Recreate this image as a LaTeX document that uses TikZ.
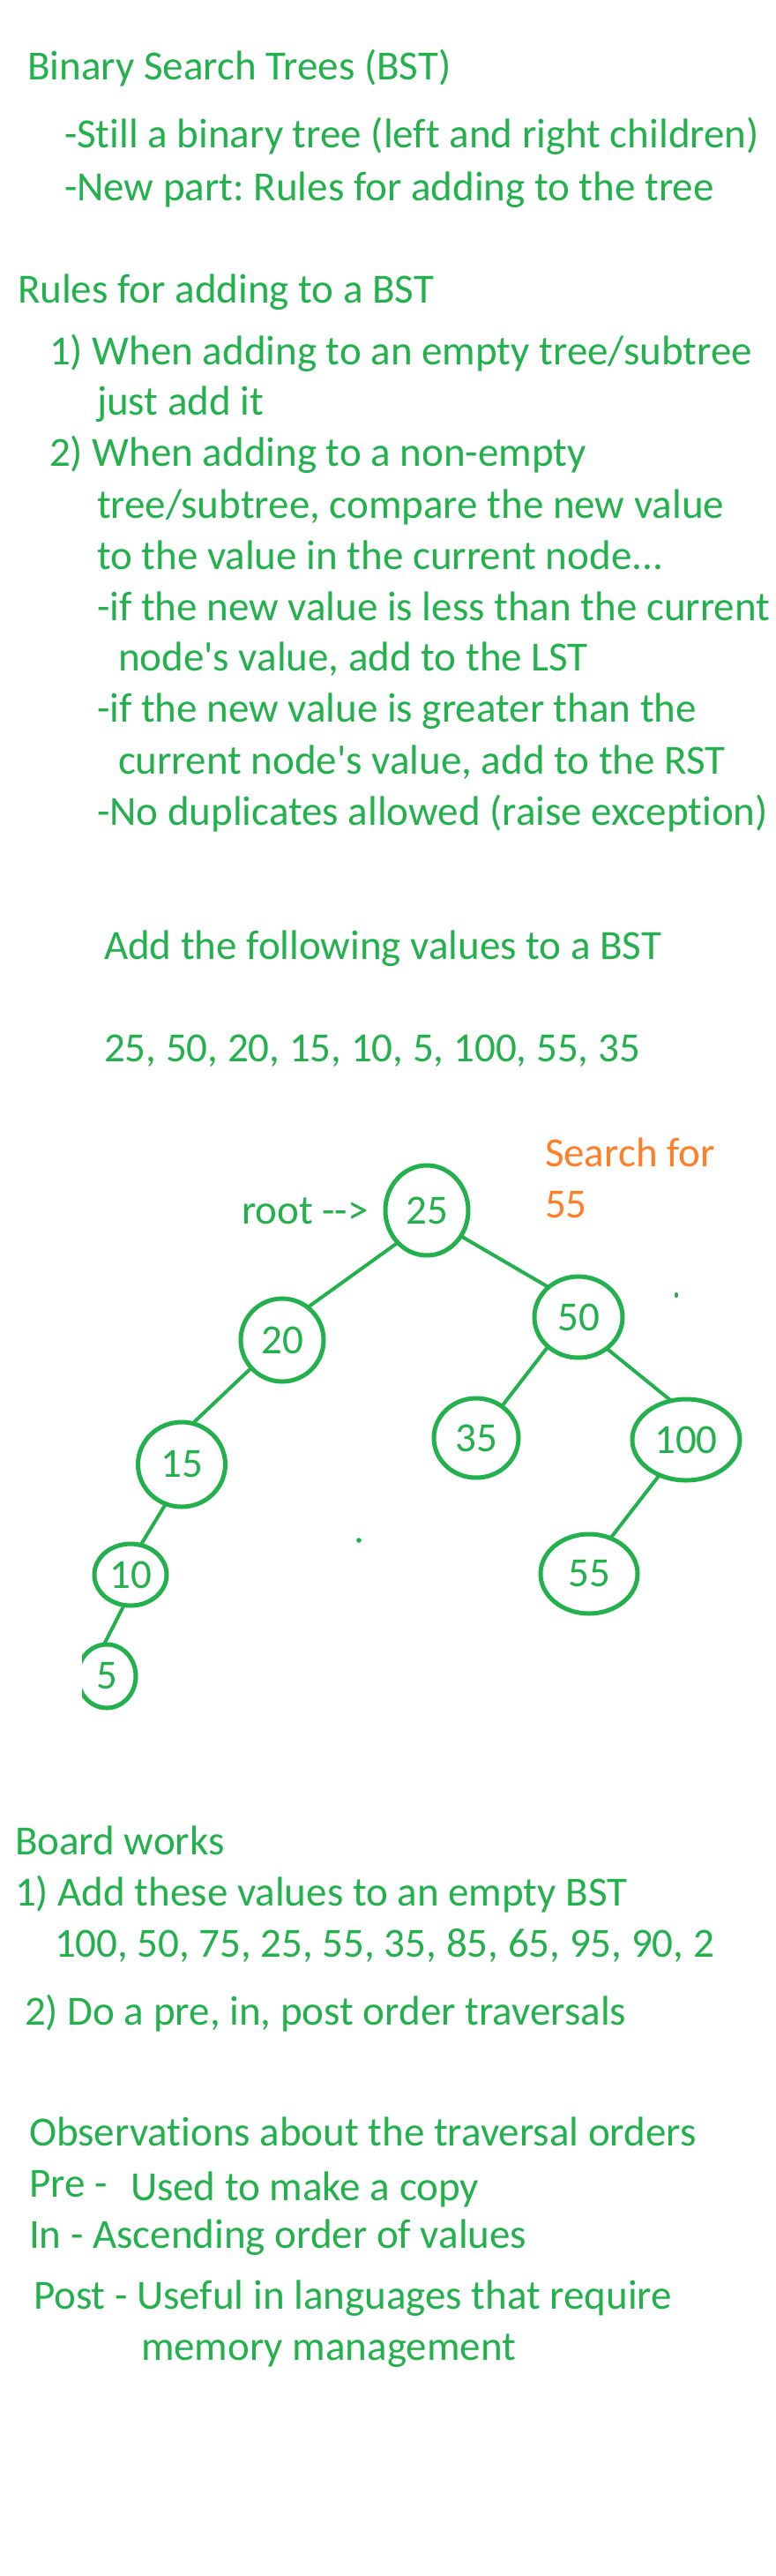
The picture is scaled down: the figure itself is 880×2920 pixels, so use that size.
\documentclass[tikz,border=0pt]{standalone}
\usepackage{fontspec}
\setmainfont{Carlito}[Ligatures={NoCommon,TeX}]
\usetikzlibrary{shapes.geometric}
\definecolor{pgreen}{HTML}{22B14C}
\definecolor{porange}{HTML}{FF7F27}
\frenchspacing
\begin{document}
\begin{tikzpicture}[x=1pt,y=-1pt,
  every node/.style={font=\fontsize{47}{56}\selectfont\frenchspacing, text=pgreen},
  txt/.style={anchor=base west, inner sep=0pt, outer sep=0pt},
  otxt/.style={txt, text=porange},
  bst/.style={ellipse, draw=pgreen, line width=5pt, inner sep=0pt, outer sep=0pt},
  link/.style={draw=pgreen, line width=4pt}]
\fill[white] (0,0) rectangle (880,2920);
\useasboundingbox (0,0) rectangle (880,2920);
% header text
\node[txt] (t1) at (31,90) {Binary Search Trees (BST)};
\node[txt] (t2) at (73,167) {-Still a binary tree (left and right children)};
\node[txt] (t3) at (73,227) {-New part: Rules for adding to the tree};
\node[txt] (t4) at (20,343) {Rules for adding to a BST};
\node[txt] (t5) at (56,413) {1) When adding to an empty tree/subtree};
\node[txt] (t6) at (110,470) {just add it};
\node[txt] (t7) at (56,528) {2) When adding to a non-empty};
\node[txt] (t8) at (110,587) {tree/subtree, compare the new value};
\node[txt] (t9) at (110,645) {to the value in the current node.{}.{}.};
\node[txt] (t10) at (110,703) {-if the new value is less than the current};
\node[txt] (t11) at (134,760) {node\textquotesingle s value, add to the LST};
\node[txt] (t12) at (110,818) {-if the new value is greater than the};
\node[txt] (t13) at (134,877) {current node\textquotesingle s value, add to the RST};
\node[txt] (t14) at (110,935) {-No duplicates allowed (raise exception)};
\node[txt] (t15) at (118,1087) {Add the following values to a BST};
\node[txt] (t16) at (118,1203) {25, 50, 20, 15, 10, 5, 100, 55, 35};
\node[otxt] (s1) at (618,1322) {Search for};
\node[otxt] (s2) at (618,1380) {55};
\node[txt] (root) at (274,1387) {root -{}->};
% tree
\node[bst, minimum width=94pt, minimum height=102pt] (n25) at (484,1372) {25};
\node[bst, minimum width=94pt, minimum height=94pt] (n20) at (320,1519) {20};
\node[bst, minimum width=100pt, minimum height=92pt] (n50) at (656,1493) {50};
\node[bst, minimum width=99pt, minimum height=96pt] (n15) at (206,1660) {15};
\node[bst, minimum width=82pt, minimum height=70pt] (n10) at (148,1785) {10};
\begin{scope}
\clip (93,1800) rectangle (220,1980);
\node[bst, minimum width=66pt, minimum height=72pt] (n5) at (121,1900) {5};
\end{scope}
\node[bst, minimum width=96pt, minimum height=90pt] (n35) at (540,1630) {35};
\node[bst, minimum width=122pt, minimum height=92pt] (n100) at (778,1632) {100};
\node[bst, minimum width=110pt, minimum height=90pt] (n55) at (668,1784) {55};
\draw[link] (n25.228) -- (n20.52);
\draw[link] (n25.323) -- (n50.135);
\draw[link] (n20.222) -- (n15.75);
\draw[link] (n15.248) -- (n10.71);
\draw[link] (n10.258) -- (n5.95);
\draw[link] (n50.224) -- (n35.51);
\draw[link] (n50.312) -- (n100.111);
\draw[link] (n100.233) -- (n55.59);
% stray marks
\fill[pgreen] (767,1468) ellipse (2.2pt and 3.2pt);
\fill[pgreen] (407,1746) circle (2.8pt);
% board works
\node[txt] (b1) at (17,2102) {Board works};
\node[txt] (b2) at (17,2160) {1) Add these values to an empty BST};
\node[txt] (b3) at (62,2218) {100, 50, 75, 25, 55, 35, 85, 65, 95, 90, 2};
\node[txt] (b4) at (28,2295) {2) Do a pre, in, post order traversals};
\node[txt] (o1) at (33,2432) {Observations about the traversal orders};
\node[txt] (o2) at (33,2490) {Pre -};
\node[txt] (o3) at (148,2494) {Used to make a copy};
\node[txt] (o4) at (33,2548) {In - Ascending order of values};
\node[txt] (o5) at (38,2617) {Post - Useful in languages that require};
\node[txt] (o6) at (160,2675) {memory management};
\end{tikzpicture}
\end{document}
